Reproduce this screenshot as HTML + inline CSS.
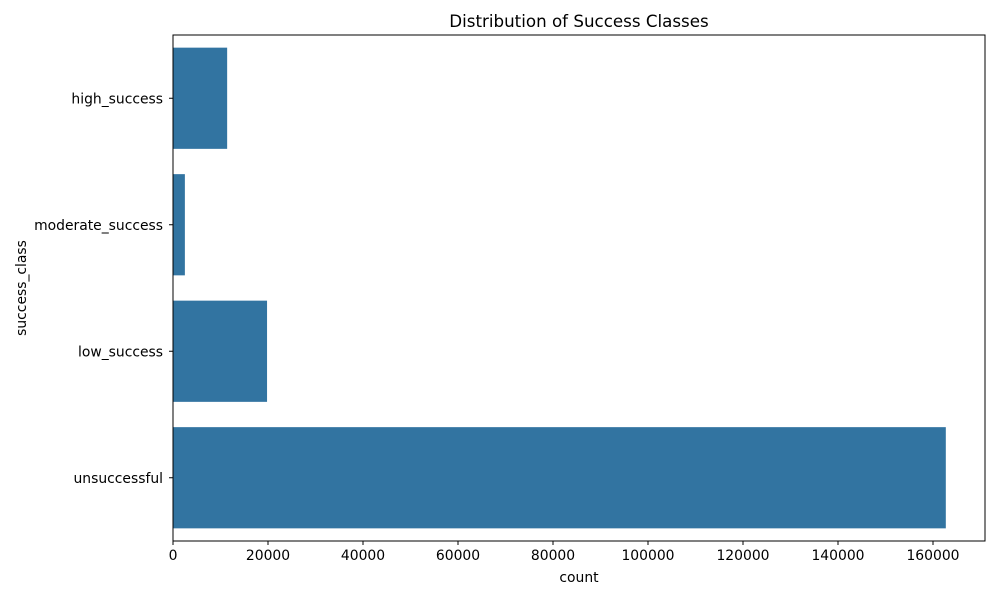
<!DOCTYPE html>
<html><head><meta charset="utf-8"><style>
body{margin:0;background:#fff;font-family:"Liberation Sans","DejaVu Sans",sans-serif;}
svg text{font-family:"DejaVu Sans","Liberation Sans",sans-serif;fill:#000;}
</style></head><body>
<svg id="chart" width="1000" height="600" xmlns="http://www.w3.org/2000/svg">
<text x="579" y="27" font-size="16.7" text-anchor="middle">Distribution of Success Classes</text>
<text x="579" y="582" font-size="13.9" text-anchor="middle">count</text>
<text transform="translate(26,288) rotate(-90)" font-size="13.9" text-anchor="middle">success_class</text>
<g id="bars"></g><g id="xt"></g><g id="yt"></g>
<rect x="173" y="35" width="812" height="506" fill="none" stroke="#000" stroke-width="1"/>
</svg>
<script>
const categories=["high_success","moderate_success","low_success","unsuccessful"];
const counts=[11400,2500,19800,162700];
const xTicks=[0,20000,40000,60000,80000,100000,120000,140000,160000];
const L=173,R=985,T=35,B=541,XMAX=170950;
const x=v=>L+v/XMAX*(R-L);
const band=(B-T)/categories.length;
const y=i=>T+band*i;
const ns="http://www.w3.org/2000/svg";
const bars=document.getElementById('bars'),xt=document.getElementById('xt'),yt=document.getElementById('yt');
categories.forEach((c,i)=>{
 const r=document.createElementNS(ns,'rect');
 
 
 r.setAttribute('x',x(0));r.setAttribute('y',y(i)+band*0.1);
 r.setAttribute('width',x(counts[i])-x(0));r.setAttribute('height',band*0.8);
 r.setAttribute('fill','#3274a1');bars.appendChild(r);
 const cy=y(i)+band/2;
 const l=document.createElementNS(ns,'line');
 
 
 l.setAttribute('x1',L-4);l.setAttribute('x2',L);l.setAttribute('y1',cy);l.setAttribute('y2',cy);l.setAttribute('stroke','#000');yt.appendChild(l);
 const t=document.createElementNS(ns,'text');
 
 
 t.setAttribute('x',L-10);t.setAttribute('y',cy+5);t.setAttribute('font-size','13.9');t.setAttribute('text-anchor','end');t.textContent=c;yt.appendChild(t);
});
xTicks.forEach(v=>{
 const px=x(v);
 const l=document.createElementNS(ns,'line');
 
 
 l.setAttribute('x1',px);l.setAttribute('x2',px);l.setAttribute('y1',B);l.setAttribute('y2',B+4);l.setAttribute('stroke','#000');xt.appendChild(l);
 const t=document.createElementNS(ns,'text');
 
 
 t.setAttribute('x',px);t.setAttribute('y',B+19);t.setAttribute('font-size','13.9');t.setAttribute('text-anchor','middle');t.textContent=v;xt.appendChild(t);
});
</script>
</body></html>
